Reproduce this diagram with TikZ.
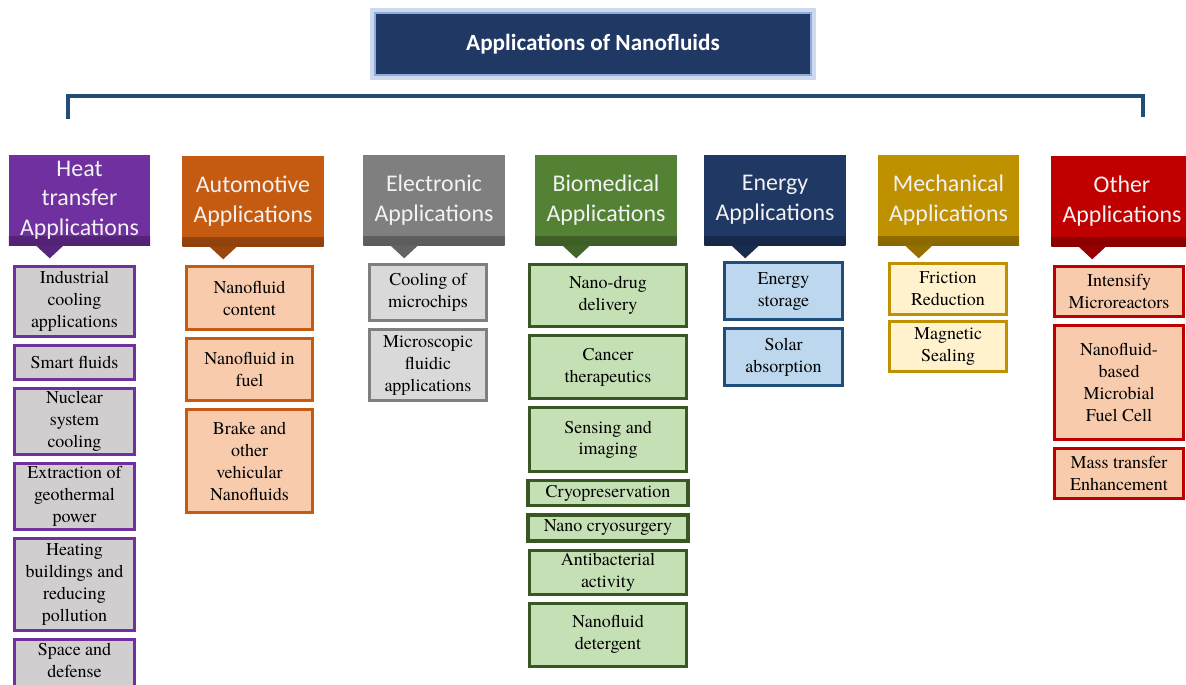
\documentclass[tikz,border=0pt]{standalone}
\usepackage{fontspec}
\newfontfamily\calibri{Carlito}
\newfontfamily\termes{texgyretermes-regular.otf}
\usepackage{tikz}
\usetikzlibrary{positioning}
\definecolor{navy}{RGB}{32,56,100}
\definecolor{glow}{RGB}{143,170,220}
\definecolor{bracket}{RGB}{31,78,121}
\definecolor{heatc}{RGB}{112,48,160}
\definecolor{autoc}{RGB}{197,90,17}
\definecolor{elecc}{RGB}{127,127,127}
\definecolor{bioc}{RGB}{84,130,53}
\definecolor{bioline}{RGB}{56,87,35}
\definecolor{enc}{RGB}{31,56,100}
\definecolor{enline}{RGB}{31,78,121}
\definecolor{mechc}{RGB}{191,144,0}
\definecolor{othc}{RGB}{192,0,0}
\definecolor{heatfill}{RGB}{208,206,206}
\definecolor{autofill}{RGB}{248,203,173}
\definecolor{elecfill}{RGB}{217,217,217}
\definecolor{biofill}{RGB}{197,224,180}
\definecolor{enfill}{RGB}{189,215,238}
\definecolor{mechfill}{RGB}{255,242,204}
\definecolor{othfill}{RGB}{248,203,173}

\begin{document}
\begin{tikzpicture}[x=0.025cm, y=-0.025cm,
		title/.style={fill=navy, draw=glow, line width=1.5pt,
			preaction={draw=glow!45, line width=7pt},
			minimum width=10.9cm, minimum height=1.55cm,
			text=white, font=\calibri\bfseries\fontsize{16.5}{20}\selectfont},
		head/.style={fill=#1, inner sep=0pt, align=center,
			minimum width=3.525cm, minimum height=2.25cm,
			text=white!95!black, font=\calibri\fontsize{17}{21}\selectfont,
			path picture={\shade[top color=#1, bottom color=#1!72!black]
				([yshift=6pt]path picture bounding box.south west)
				rectangle (path picture bounding box.south east);}},
		sub/.style 2 args={draw=#1, fill=#2, line width=2.2pt, align=center,
			inner sep=2pt, font=\termes\fontsize{12.8}{15.6}\selectfont},
		node distance=0.15cm]
		\useasboundingbox (0,0) rectangle (1186,685);
		\clip (0,0) rectangle (1186,685);
		% title and bracket
		\node[title] (title) at (593,44) {Applications of Nanofluids};
		\coordinate (bl) at (68,119);
		\coordinate (br) at (1143,117);
		\draw[bracket, line width=3pt] (bl) -- ++(0,-23) -| (br);
		% category headers
		\node[head=heatc] (heat) at (79.5,200) {Heat\\transfer\\Applications};
		\node[head=autoc] (auto) at (253,201) {Automotive\\Applications};
		\node[head=elecc] (elec) at (434,200) {Electronic\\Applications};
		\node[head=bioc] (bio) at (606,200) {Biomedical\\Applications};
		\node[head=enc] (energy) at (775,200) {Energy\\Applications};
		\node[head=mechc] (mech) at (948.5,200) {Mechanical\\Applications};
		\node[head=othc] (other) at (1122,201) {Other\\Applications};
		\foreach \h/\c in {heat/heatc, auto/autoc, elec/elecc, bio/bioc,
				energy/enc, mech/mechc, other/othc}
			\fill[\c!78!black] (\h.south west) ++(27,0) -- ++(14,13) -- ++(14,-13) -- cycle;
		% heat transfer
		\begin{scope}[every node/.append style={sub={heatc}{heatfill}, minimum width=3.0cm}]
			\node[anchor=north, minimum height=1.75cm] (ind) at (74.5,265)
				{Industrial\\cooling\\applications};
			\node[below=of ind, minimum height=0.85cm] (smart) {Smart fluids};
			\node[below=of smart, minimum height=1.575cm] (nuc) {Nuclear\\system\\cooling};
			\node[below=of nuc, minimum height=1.65cm] (geo) {Extraction of\\geothermal\\power};
			\node[below=of geo, minimum height=2.3cm] (build)
				{Heating\\buildings and\\reducing\\pollution};
			\node[below=of build, minimum height=1.55cm, text depth=0.5cm] (space)
				{Space and\\defense};
		\end{scope}
		% automotive
		\begin{scope}[every node/.append style={sub={autoc}{autofill}, minimum width=3.15cm}]
			\node[anchor=north, minimum height=1.575cm] (cont) at (249.5,265)
				{Nanofluid\\content};
			\node[below=of cont, minimum height=1.55cm] (fuel) {Nanofluid in\\fuel};
			\node[below=of fuel, minimum height=2.575cm] (brake)
				{Brake and\\other\\vehicular\\Nanofluids};
		\end{scope}
		% electronic
		\begin{scope}[every node/.append style={sub={elecc}{elecfill}, minimum width=2.925cm}]
			\node[anchor=north, minimum height=1.4cm] (chips) at (428,263)
				{Cooling of\\microchips};
			\node[below=of chips, minimum height=1.775cm] (fluidic)
				{Microscopic\\fluidic\\applications};
		\end{scope}
		% biomedical
		\begin{scope}[every node/.append style={sub={bioline}{biofill}, minimum width=3.925cm}]
			\node[anchor=north, minimum height=1.55cm] (drug) at (608,263)
				{Nano-drug\\delivery};
			\node[below=of drug, minimum height=1.575cm] (cancer) {Cancer\\therapeutics};
			\node[below=of cancer, minimum height=1.6cm] (sens) {Sensing and\\imaging};
			\node[below=of sens, minimum height=0.625cm, minimum width=4.0cm] (cryo)
				{Cryopreservation};
			\node[below=of cryo, minimum height=0.65cm, minimum width=4.0cm] (cryosurg)
				{Nano cryosurgery};
			\node[below=of cryosurg, minimum height=1.1cm] (anti) {Antibacterial\\activity};
			\node[below=of anti, minimum height=1.575cm] (deterg) {Nanofluid\\detergent};
		\end{scope}
		% energy
		\begin{scope}[every node/.append style={sub={enline}{enfill}, minimum width=2.95cm}]
			\node[anchor=north, minimum height=1.425cm] (stor) at (783.5,261)
				{Energy\\storage};
			\node[below=of stor, minimum height=1.425cm] (solar) {Solar\\absorption};
		\end{scope}
		% mechanical
		\begin{scope}[every node/.append style={sub={mechc}{mechfill}, minimum width=2.925cm}]
			\node[anchor=north, minimum height=1.275cm] (fric) at (948,262)
				{Friction\\Reduction};
			\node[below=0.1cm of fric, minimum height=1.25cm] (seal) {Magnetic\\Sealing};
		\end{scope}
		% other
		\begin{scope}[every node/.append style={sub={othc}{othfill}, minimum width=3.225cm}]
			\node[anchor=north, minimum height=1.25cm] (react) at (1119,265)
				{Intensify\\Microreactors};
			\node[below=of react, minimum height=2.85cm] (mfc)
				{Nanofluid-\\based\\Microbial\\Fuel Cell};
			\node[below=of mfc, minimum height=1.25cm] (mass) {Mass transfer\\Enhancement};
		\end{scope}
	\end{tikzpicture}
\end{document}
